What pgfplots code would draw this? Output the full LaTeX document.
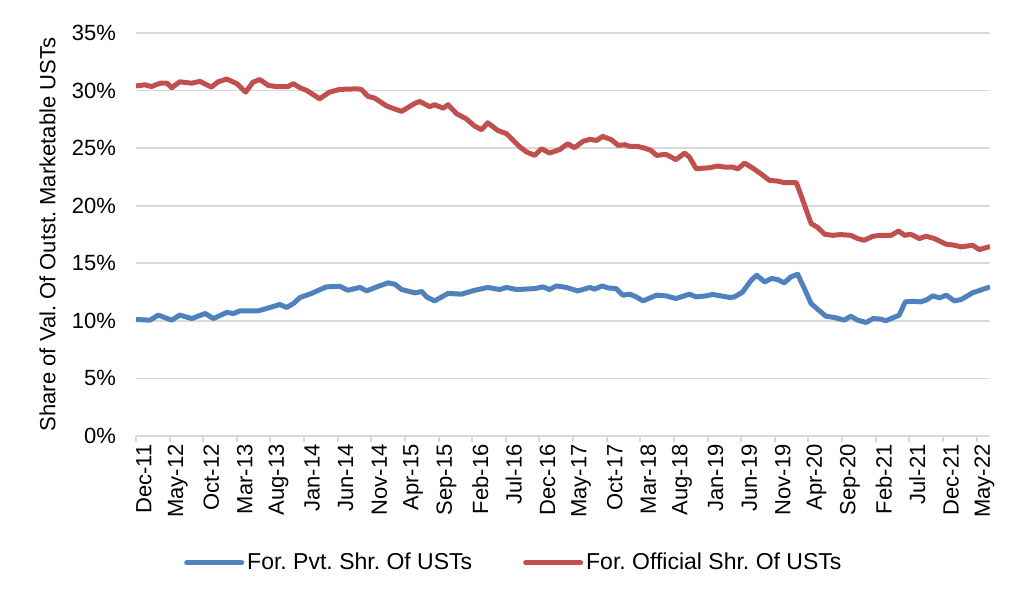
\documentclass[border=0pt]{standalone}
\usepackage{pgfplots}
\pgfplotsset{compat=1.18}
\usepackage{fontspec}
\setmainfont{Liberation Sans}
\frenchspacing

\definecolor{pvtblue}{RGB}{79,129,189}
\definecolor{offred}{RGB}{192,80,77}
\definecolor{gridgray}{RGB}{217,217,217}

\begin{document}
\begin{tikzpicture}
\begin{axis}[
    scale only axis,
    width=427pt,
    height=201.5pt,
    xmin=0, xmax=127,
    ymin=0, ymax=35,
    axis x line*=bottom,
    axis y line*=left,
    y axis line style={draw=none},
    x axis line style={gridgray, line width=1pt},
    xtick={0,5,...,125},
    xticklabels={Dec-11,May-12,Oct-12,Mar-13,Aug-13,Jan-14,Jun-14,Nov-14,Apr-15,Sep-15,Feb-16,Jul-16,Dec-16,May-17,Oct-17,Mar-18,Aug-18,Jan-19,Jun-19,Nov-19,Apr-20,Sep-20,Feb-21,Jul-21,Dec-21,May-22},
    xticklabel style={rotate=90, anchor=east, inner sep=1pt, yshift=-4pt},
    tick align=outside,
    xtick style={gridgray, line width=1pt},
    major tick length=3pt,
    ytick={0,5,...,35},
    yticklabels={0\%,5\%,10\%,15\%,20\%,25\%,30\%,35\%},
    ytick style={draw=none},
    yticklabel style={xshift=-3.5pt},
    ymajorgrids,
    grid style={gridgray, line width=0.8pt},
    ylabel={Share of Val. Of Outst. Marketable USTs},
    ylabel style={at={(axis description cs:-0.086,0.5)}, anchor=south},
    tick label style={font=\fontsize{11}{13}\selectfont},
    label style={font=\fontsize{11}{13}\selectfont},
    legend style={at={(0.443,-0.315)}, anchor=center, draw=none, fill=none,
        legend columns=2, font=\fontsize{11.5}{13}\selectfont,
        nodes={inner xsep=1.5pt},
        /tikz/every even column/.append style={column sep=24pt}},
    legend image code/.code={\draw[#1, line cap=round] (0pt,0pt) -- (27.5pt,0pt);},
    every axis plot/.append style={line width=2.5pt, line join=round},
]

\addplot[pvtblue] coordinates {
(0,10.12) (2.1,10.06) (3.3,10.5) (5.3,10.06) (6.5,10.5) (8.3,10.2)
(10.3,10.64) (11.5,10.2) (13.5,10.73) (14.5,10.64) (15.5,10.87) (18.2,10.87)
(19.4,11.07) (21.4,11.42) (22.4,11.16) (23.4,11.5) (24.4,12.03) (26.1,12.38)
(28.3,12.95) (30.3,13.0) (31.5,12.66) (33.3,12.9) (34.3,12.6) (35.8,12.95)
(37.5,13.3) (38.5,13.18) (39.5,12.72) (41.5,12.43) (42.5,12.55) (43.2,12.08)
(44.4,11.73) (46.4,12.38) (48.4,12.32) (50.4,12.66) (52.3,12.9) (54.1,12.72)
(55.1,12.9) (56.6,12.72) (59.3,12.8) (60.5,12.95) (61.5,12.72) (62.5,13.03)
(64,12.9) (65.7,12.6) (67.5,12.9) (68.2,12.75) (69.3,13.03) (70.2,12.86)
(71.4,12.8) (72.4,12.23) (73.4,12.32) (74.4,12.08) (75.4,11.73) (77.4,12.23)
(78.8,12.17) (80.3,11.94) (82.3,12.32) (83.3,12.08) (84.8,12.17) (85.8,12.29)
(88.3,12.03) (89,12.08) (90.2,12.5) (91.5,13.53) (92.3,13.96) (93.5,13.38)
(94.5,13.68) (95.4,13.59) (96.4,13.3) (97.4,13.82) (98.4,14.05) (99.4,12.8)
(100.4,11.5) (101.4,10.99) (102.6,10.4) (103.9,10.29) (105.3,10.06) (106.3,10.4)
(107.3,10.06) (108.6,9.86) (109.6,10.2) (110.8,10.15) (111.5,10.0) (113.5,10.5)
(114.4,11.65) (115.5,11.7) (116.7,11.65) (117.5,11.8) (118.5,12.17) (119.5,12.0)
(120.5,12.23) (121.7,11.73) (122.7,11.85) (124.4,12.43) (127,12.95)
};
\addlegendentry{For. Pvt. Shr. Of USTs}

\addplot[offred] coordinates {
(0,30.4) (1.3,30.5) (2.3,30.35) (3.6,30.64) (4.6,30.64) (5.3,30.24)
(6.5,30.76) (8.3,30.64) (9.5,30.8) (11.2,30.3) (12.2,30.76) (13.5,31.0)
(15,30.6) (16.3,29.87) (17.4,30.73) (18.4,30.96) (19.7,30.44) (20.9,30.35)
(22.6,30.35) (23.4,30.6) (24.4,30.24) (25.4,30.0) (27.3,29.29) (28.8,29.87)
(30.3,30.1) (32.8,30.15) (33.5,30.1) (34.5,29.5) (35.5,29.34) (37.3,28.65)
(39.5,28.19) (41.5,28.9) (42.2,29.05) (43.7,28.6) (44.4,28.77) (45.7,28.47)
(46.4,28.77) (47.7,27.98) (49.1,27.55) (50.4,26.9) (51.4,26.6) (52.3,27.2)
(53.8,26.54) (55.1,26.25) (57.1,25.1) (58.1,24.66) (59.3,24.37) (60.3,24.95)
(61.5,24.57) (63,24.87) (64.2,25.38) (65.2,25.04) (66.5,25.6) (67.5,25.76)
(68.5,25.67) (69.4,26.02) (70.7,25.73) (71.7,25.24) (72.7,25.3) (73.4,25.15)
(74.6,25.15) (75.9,24.95) (76.6,24.8) (77.4,24.37) (78.8,24.46) (80.3,24.0)
(81.6,24.57) (82.3,24.22) (83.3,23.21) (85.3,23.3) (86.5,23.45) (87.5,23.36)
(88.7,23.36) (89.5,23.2) (90.5,23.7) (91.7,23.27) (92.9,22.78) (94.2,22.2)
(95.4,22.14) (96.4,22.0) (98.2,22.0) (98.9,20.9) (99.6,19.75) (100.4,18.45)
(101.4,18.1) (102.4,17.52) (103.6,17.43) (104.8,17.49) (106.3,17.43) (107.3,17.15)
(108.3,17.0) (109.6,17.35) (110.8,17.43) (112.3,17.43) (113.4,17.8) (114.3,17.43)
(115.2,17.52) (116.5,17.15) (117.5,17.35) (118.7,17.15) (120.5,16.65) (121.7,16.57)
(122.7,16.42) (124.4,16.57) (125.4,16.19) (127,16.45)
};
\addlegendentry{For. Official Shr. Of USTs}

\end{axis}
\pgfresetboundingbox
\path (-68pt,-83.5pt) rectangle (444pt,218pt);
\end{tikzpicture}
\end{document}
